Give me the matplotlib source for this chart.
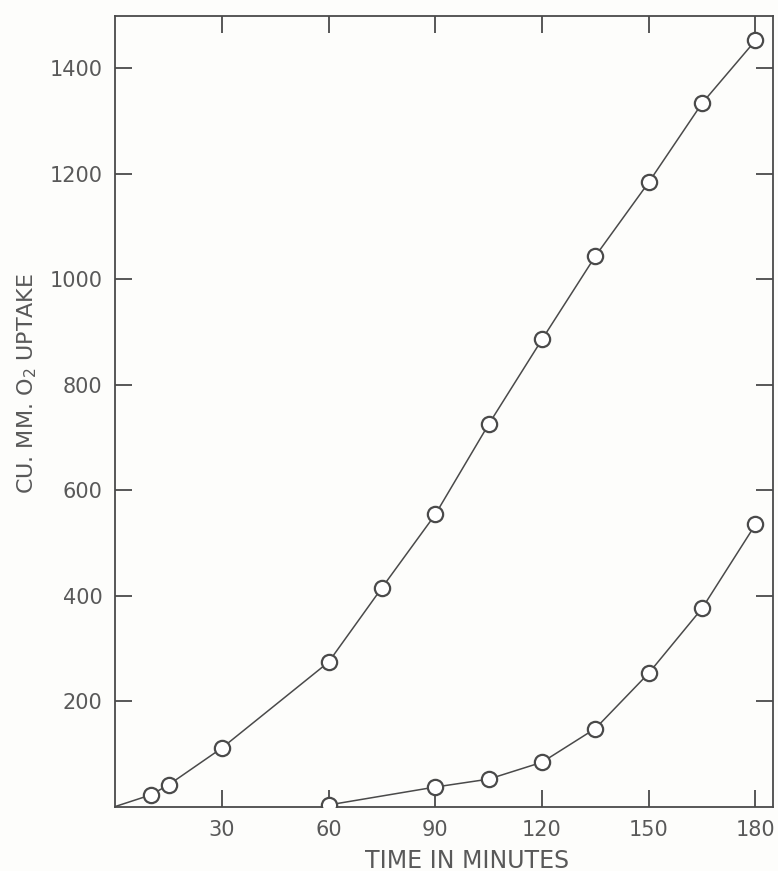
import numpy as np
import matplotlib.pyplot as plt

# oxygen uptake readings (cu. mm) against time (minutes)
upper_t = [0, 10, 15, 30, 60, 75, 90, 105, 120, 135, 150, 165, 180]
upper_o2 = [0, 22, 41, 111, 274, 415, 554, 725, 886, 1044, 1184, 1334, 1453]

lower_t = [60, 90, 105, 120, 135, 150, 165, 180]
lower_o2 = [3, 37, 52, 84, 148, 253, 376, 535]

x_ticks = [30, 60, 90, 120, 150, 180]
y_ticks = [200, 400, 600, 800, 1000, 1200, 1400]

ink = '#4a4a4a'
txt = '#595959'

fig = plt.figure(figsize=(7.78, 8.71), dpi=100)
fig.patch.set_facecolor('#fdfdfb')
ax = fig.add_axes([0.148, 0.074, 0.845, 0.908])
ax.set_facecolor('#fdfdfb')

ax.plot(upper_t, upper_o2, color=ink, lw=1.1, zorder=2)
ax.plot(upper_t[1:], upper_o2[1:], 'o', ms=11, mfc='white', mec=ink, mew=1.6, zorder=3)

ax.plot(lower_t, lower_o2, color=ink, lw=1.1, zorder=2)
ax.plot(lower_t, lower_o2, 'o', ms=11, mfc='white', mec=ink, mew=1.6, zorder=3)

ax.set_xlim(0, 184.8)
ax.set_ylim(0, 1500)
ax.set_xticks(x_ticks)
ax.set_yticks(y_ticks)
ax.tick_params(direction='in', length=12, width=1.3, color=ink,
               top=True, right=True, labelsize=15, labelcolor=txt)
ax.tick_params(axis='y', pad=9)
ax.tick_params(axis='x', pad=10)

for s in ax.spines.values():
    s.set_color(ink)
    s.set_linewidth(1.3)

fig.text(0.035, 0.56, 'CU. MM. O$_2$ UPTAKE', rotation=90, ha='center', va='center',
         fontsize=16, color=txt)
fig.text(0.60, 0.004, 'TIME IN MINUTES', ha='center', va='baseline', fontsize=17, color=txt)

fig.savefig('out.png', dpi=100, facecolor=fig.get_facecolor())
